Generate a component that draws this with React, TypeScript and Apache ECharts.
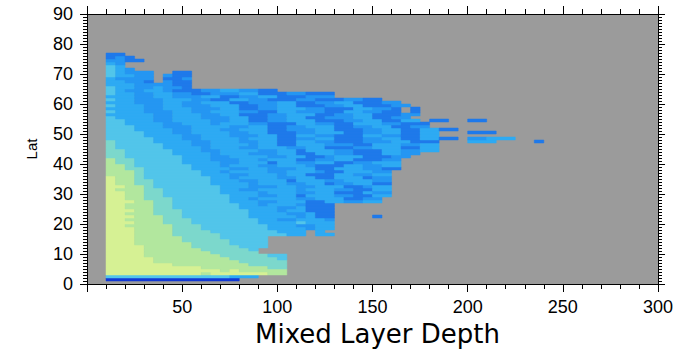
import React, { useEffect, useRef } from "react";
import * as echarts from "echarts";

// Axis ranges and tick steps
const xRange = [0, 300];
const yRange = [0, 90];
const xLabelStep = 50;
const yLabelStep = 10;

// Histogram bins: mixed layer depth bins of 5 starting at 10, latitude rows of 1 degree
const depthBinStart = 10;
const depthBinWidth = 5;
const latBinHeight = 1;

// Colour classes (dark blue ... yellow-green)
const classCodes = ["D", "B", "b", "S", "c", "C", "g", "y"];
const classColors = ["#1238d4", "#1f79ea", "#2596f2", "#2eaaf3", "#52c5ea", "#7cd8cc", "#b2e79e", "#d6f194"];

// Latitude (bottom edge) of each row, and its run-length coded colour classes per depth bin ('.' = empty)
const rowLats = [
  1, 2, 3, 4, 5, 6, 7, 8, 9, 10, 11, 12, 13, 14, 15, 16, 17, 18, 19, 20,
  21, 22, 23, 24, 25, 26, 27, 28, 29, 30, 31, 32, 33, 34, 35, 36, 37, 38, 39, 40,
  41, 42, 43, 44, 45, 46, 47, 48, 49, 50, 51, 52, 53, 54, 55, 56, 57, 58, 59, 60,
  61, 62, 63, 64, 65, 66, 67, 68, 69, 70, 71, 72, 73, 74, 75, 76,
];
const rowRuns = [
  "D14",
  "c13 S3",
  "y10 g1 y6 g2",
  "y12 g1 y1 g5",
  "y10 g7 C2",
  "y7 g8 C4",
  "y5 g9 C5",
  "y5 g8 C5 c1",
  "y4 g8 C5 c2",
  "y4 g7 C5",
  "y4 g6 C5 c1",
  "y4 g5 C5 c3",
  "y3 g6 C4 c4",
  "y3 g5 C5 c4",
  "y3 g5 C4 c5",
  "y3 g4 C5 c7 S2 .1 S2",
  "y3 g4 C4 c7 S3 .1 S1",
  "y3 g4 C3 c7 S4 b1 S2",
  "y2 g5 C3 c7 S3 b2 S2",
  "y3 g3 C3 c7 S4 c1 S3",
  "y2 g4 C3 c7 S2 b2 S3 b1",
  "y3 g3 C2 c7 S5 b1 S1 B2 .4 B1",
  "y2 g3 C3 c7 S4 b2 S1 B2",
  "y3 g2 C3 c7 S3 b1 S2 B3",
  "y2 g3 C2 c7 S4 b2 S1 B3",
  "y2 g3 C2 c7 S2 b1 S3 b1 B3",
  "y3 g2 C2 c6 S3 b2 S3 B2 S2 b2 S2",
  "y2 g2 C3 c6 S2 b1 S4 b2 S3 B2 b2",
  "y2 g2 C2 c7 S3 b2 S2 B1 S3 b2 B2 S2",
  "y2 g2 C2 c6 S4 b1 S3 b2 S2 B3 S1 b2",
  "y1 g3 C2 c6 S2 b2 S4 b1 S3 b2 B2 S2",
  "y2 g2 C1 c7 S3 b3 S2 b2 S3 B2 b1 S2",
  "y1 g2 C2 c6 S4 b1 S3 b2 S2 B1 b2 S2 B2",
  "y1 g2 C2 c6 S3 b2 S3 B1 S3 b2 S3 b2",
  "y1 g2 C1 c7 S2 b1 S4 b2 S2 B2 S3 B1 b2",
  "g3 C1 c6 S3 b2 S3 b1 S2 B3 S2 b2 S2",
  "g3 C1 c6 S2 b1 S4 b2 S3 b1 B2 S3 b2",
  "g2 C2 c5 S4 b2 S2 b3 S2 B2 S3 b2 B2",
  "g2 C1 c6 S3 b1 S3 b2 S3 b1 B3 S2 b2 S2",
  "g1 C2 c5 S4 b2 S3 B1 S2 b2 S2 B2 b2 S3",
  "g1 C2 c5 S3 b3 S2 b1 S3 B2 b2 S2 B3 b2",
  "C2 c6 S3 b2 S4 b2 S2 B2 b1 S3 B3 b2",
  "C2 c5 S4 b1 S3 b3 S2 B2 S2 b2 B3 S2 b2",
  "C2 c5 S3 b2 S4 b2 S2 B1 S3 b2 B3 S2 b2 S2",
  "C1 c5 S4 b1 S3 b2 S3 b2 S2 B3 b2 S3 B2 S2",
  "C1 c5 S3 b2 S4 b1 S2 B2 S3 b3 B2 S3 b2 S2",
  "C1 c4 S4 b2 S3 b2 S2 B2 S2 b2 B3 b3 S2 B3 .3 S3 .4 B1",
  "c5 S3 b2 S4 b1 S3 B2 b2 S2 B3 b2 S2 B2 S2 B2 .1 b2 S3",
  "c4 S4 b2 S3 b3 S2 B2 S2 b2 B3 S2 b2 B2 S2",
  "c4 S3 b2 S4 b2 S2 B3 b2 S3 B2 b2 S2 B2 S2 .3 B3",
  "c3 S4 b2 S3 b2 S3 B2 b3 S2 B3 b2 S2 B2 S2 B2",
  "c3 S3 b3 S4 b2 S2 B2 b2 S3 B2 b2 S2 B2 b2",
  "c2 S4 b2 S3 b1 S3 b2 B3 S2 b2 B2 S3 b2 B3",
  "c2 S3 b2 S4 b2 S2 B2 b2 S3 B3 b2 S2 B2 S2 .1 B2 .2 B2",
  "c1 S4 b2 S3 b3 S2 B2 b2 S2 B2 b3 S2 B2 b2",
  "S5 b2 S3 b2 S2 B3 b2 S3 B2 b2 S2 B3 b2",
  "c1 S3 b3 S2 b2 S3 b2 B2 S2 b3 B2 S2 b2 B2 .1 B1",
  "S4 b2 S3 b3 S2 B2 b2 S3 b2 B3 S2 b2 B1 .1 B1",
  "c1 S3 b2 S2 b3 S3 B2 b2 S2 B3 b2 S2 B3 b2",
  "S3 b3 S2 b2 S3 B2 b3 S2 B2 b2 S2 B3 b2",
  "c1 S2 b3 S3 b2 B2 S2 b2 B3 b2 B3 b2 B2",
  "S3 b2 S2 b3 S2 B2 b2 S2 B3 b3",
  "c1 S2 b2 S2 b2 B2 b3 S2 B3 b2 B3",
  "c1 S1 b2 S2 b1 B3 b2 S2 b2 B2",
  "c1 S2 b2 S1 b2 B1",
  "S3 b4 B2",
  "S2 b2 B1 .1 b1 B2",
  "S1 b4 .1 B2 b1",
  "c1 S2 b2 .1 b1 B2",
  "c1 S1 b3 .2 B2",
  "c1 S1 b1",
  "c1 S1",
  "S1 b1",
  "b2 B2",
  "B1 b1 B1",
  "B2",
];

function buildCells(): number[][] {
  const cells: number[][] = [];
  rowLats.forEach((lat, r) => {
    let col = 0;
    rowRuns[r].split(" ").forEach((tok) => {
      const code = tok[0];
      const n = parseInt(tok.slice(1), 10);
      if (code !== ".") {
        cells.push([
          depthBinStart + col * depthBinWidth,
          depthBinStart + (col + n) * depthBinWidth,
          lat,
          lat + latBinHeight,
          classCodes.indexOf(code),
        ]);
      }
      col += n;
    });
  });
  return cells;
}

const labelFont = "'Liberation Sans', Arial, Helvetica, sans-serif";

export default function App() {
  const ref = useRef<HTMLDivElement>(null);
  useEffect(() => {
    if (!ref.current) return;
    const chart = echarts.init(ref.current, undefined, { renderer: "svg" });
    const axisLine = { show: true, onZero: false, lineStyle: { color: "#000", width: 1 } };
    const cells = buildCells();
    chart.setOption({
      animation: false,
      backgroundColor: "#fff",
      grid: {
        left: 87,
        right: 26,
        top: 14,
        bottom: 72,
        show: true,
        backgroundColor: "#9b9b9b",
        borderWidth: 0,
      },
      xAxis: [
        {
          type: "value",
          position: "bottom",
          min: xRange[0],
          max: xRange[1],
          interval: xLabelStep,
          axisLine,
          axisTick: { show: true, length: 8, lineStyle: { color: "#000" } },
          minorTick: { show: true, splitNumber: 5, length: 5, lineStyle: { color: "#000" } },
          splitLine: { show: false },
          axisLabel: {
            showMinLabel: false,
            fontSize: 18,
            fontFamily: labelFont,
            color: "#000",
            margin: 14,
          },
          name: "Mixed Layer Depth",
          nameLocation: "middle",
          nameGap: 35,
          nameTextStyle: {
            fontFamily: "'DejaVu Sans', Verdana, sans-serif",
            fontSize: 26,
            color: "#000",
            padding: [0, 0, 0, 10],
          },
        },
        {
          type: "value",
          position: "top",
          min: xRange[0],
          max: xRange[1],
          interval: xLabelStep,
          axisLine,
          axisTick: { show: true, length: 8, lineStyle: { color: "#000" } },
          minorTick: { show: true, splitNumber: 5, length: 5, lineStyle: { color: "#000" } },
          splitLine: { show: false },
          axisLabel: { show: false },
        },
      ],
      yAxis: [
        {
          type: "value",
          position: "left",
          min: yRange[0],
          max: yRange[1],
          interval: yLabelStep,
          axisLine,
          axisTick: { show: true, length: 7, lineStyle: { color: "#000" } },
          minorTick: { show: true, splitNumber: 10, length: 4, lineStyle: { color: "#000" } },
          splitLine: { show: false },
          axisLabel: { fontSize: 18, fontFamily: labelFont, color: "#000", margin: 14 },
          name: "Lat",
          nameLocation: "middle",
          nameGap: 48,
          nameTextStyle: { fontFamily: labelFont, fontSize: 15, color: "#000" },
        },
        {
          type: "value",
          position: "right",
          min: yRange[0],
          max: yRange[1],
          interval: yLabelStep,
          axisLine,
          axisTick: { show: true, length: 7, lineStyle: { color: "#000" } },
          minorTick: { show: true, splitNumber: 10, length: 4, lineStyle: { color: "#000" } },
          splitLine: { show: false },
          axisLabel: { show: false },
        },
      ],
      series: [
        {
          type: "custom",
          xAxisIndex: 0,
          yAxisIndex: 0,
          clip: true,
          dimensions: ["x0", "x1", "y0", "y1", "cls"],
          encode: { x: [0, 1], y: [2, 3] },
          data: cells,
          renderItem: (_params: any, api: any) => {
            const p0 = api.coord([api.value(0), api.value(3)]);
            const p1 = api.coord([api.value(1), api.value(2)]);
            const color = classColors[api.value(4) as number];
            return {
              type: "rect",
              shape: { x: p0[0], y: p0[1], width: p1[0] - p0[0], height: p1[1] - p0[1] },
              style: { fill: color, stroke: color, lineWidth: 0.5 },
            };
          },
        },
      ],
    });
    return () => chart.dispose();
  }, []);
  return (
    <div
      ref={ref}
      style={{ position: "fixed", left: 0, top: 0, width: 684, height: 356 }}
    />
  );
}
